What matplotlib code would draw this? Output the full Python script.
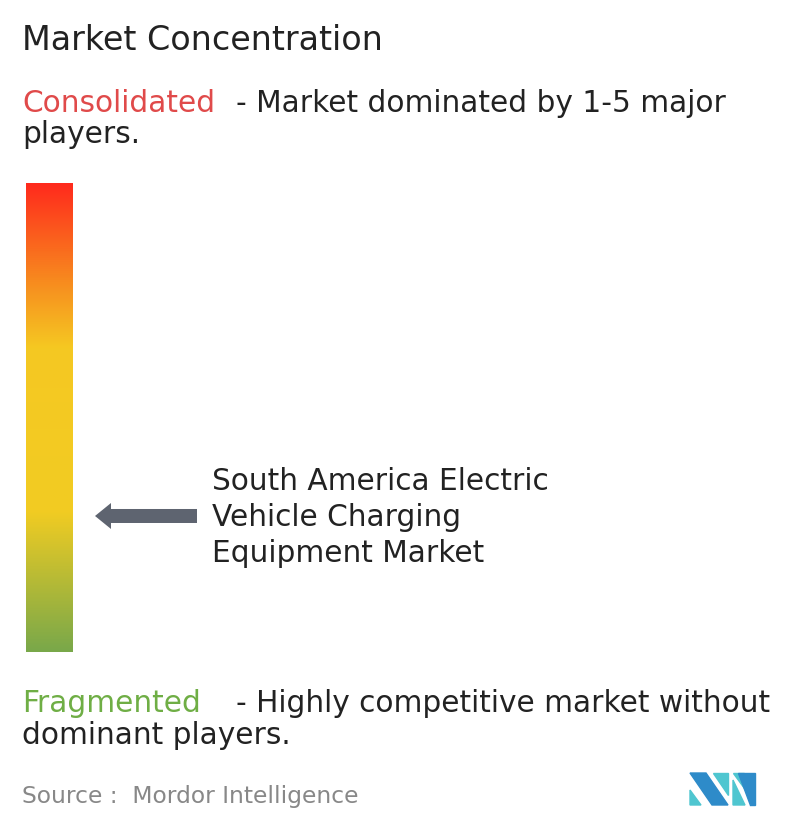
import numpy as np
import matplotlib.pyplot as plt
from matplotlib.colors import LinearSegmentedColormap
from matplotlib.patches import Polygon, FancyArrow

W, H = 796, 834
market_name = ["South America Electric", "Vehicle Charging", "Equipment Market"]
market_pos = 0.71  # 0 = consolidated (top), 1 = fragmented (bottom)
grad_stops = [0.0, 0.22, 0.35, 0.7, 1.0]
grad_colors = ["#ff2a1c", "#f7901f", "#f5c822", "#f2cc22", "#79a84a"]

fig = plt.figure(figsize=(W / 100, H / 100), dpi=100)
ax = fig.add_axes([0, 0, 1, 1])
ax.set_xlim(0, W)
ax.set_ylim(H, 0)
ax.axis("off")

font = "DejaVu Sans"
body = 21.3
ax.text(22, 40, "Market Concentration", fontsize=24, color="#222222", va="center", family=font)

ax.text(22, 103, "Consolidated", fontsize=body, color="#e04a4a", va="center", family=font)
ax.text(236, 103, "- Market dominated by 1-5 major", fontsize=body, color="#222222", va="center", family=font)
ax.text(22, 134, "players.", fontsize=body, color="#222222", va="center", family=font)

# gradient bar
cmap = LinearSegmentedColormap.from_list("conc", list(zip(grad_stops, grad_colors)))
top, bottom = 183, 652
grad = np.linspace(0, 1, 256).reshape(-1, 1)
ax.imshow(grad, cmap=cmap, extent=[26, 73, bottom, top], aspect="auto", zorder=1)

# arrow pointing to the market
ay = top + market_pos * (bottom - top)
ax.add_patch(FancyArrow(197, ay, -86, 0, width=14, head_width=26, head_length=16,
                        length_includes_head=False, color="#5e6470", lw=0))
for i, line in enumerate(market_name):
    ax.text(212, ay - 34 + i * 36, line, fontsize=body, color="#222222", va="center", family=font)

ax.text(22, 704, "Fragmented", fontsize=body, color="#6fae45", va="center", family=font)
ax.text(236, 704, "- Highly competitive market without", fontsize=body, color="#222222", va="center", family=font)
ax.text(22, 735, "dominant players.", fontsize=body, color="#222222", va="center", family=font)

ax.text(22, 796, "Source :  Mordor Intelligence", fontsize=16.8, color="#888888", va="center", family=font)

# logo
dark, light = "#2e8bc9", "#4fc6d0"
ax.add_patch(Polygon([(690, 773), (706, 773), (728, 805), (712, 805)], color=dark))
ax.add_patch(Polygon([(690, 790), (701, 805), (690, 805)], color=light))
ax.add_patch(Polygon([(713, 773), (728, 773), (728, 795)], color=light))
ax.add_patch(Polygon([(733, 773), (744, 773), (744, 788)], color=light))
ax.add_patch(Polygon([(733, 780), (745, 805), (733, 805)], color=light))
ax.add_patch(Polygon([(738, 773), (755, 773), (755, 805), (750, 805)], color=dark))

fig.savefig("out.png", dpi=100)
